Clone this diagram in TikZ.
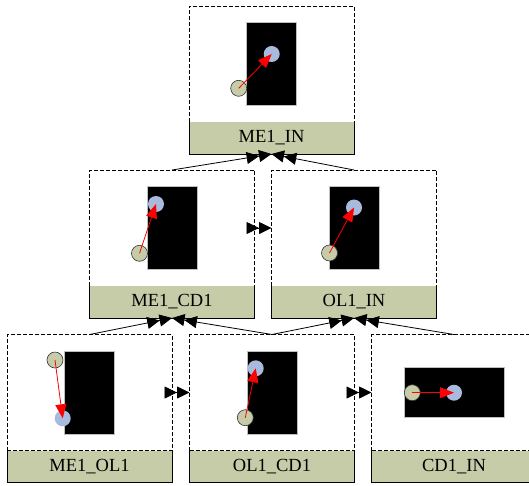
\documentclass[tikz,border=0pt]{standalone}
\usepackage{fontspec}
\setmainfont{Liberation Serif}
\usetikzlibrary{arrows.meta}
\definecolor{olivegray}{RGB}{198,204,168}
\definecolor{pinblue}{RGB}{168,187,222}

\begin{document}
\begin{tikzpicture}[x=1pt,y=-1pt,
    box_frame/.style={draw,dash pattern=on 4pt off 2pt,line width=0.9pt,minimum width=165pt,minimum height=116pt,inner sep=0pt,outer sep=0pt},
    box_bar/.style={fill=olivegray,minimum width=165pt,minimum height=32pt,inner sep=0pt,outer sep=0pt,anchor=north,font=\fontsize{18.5}{20}\selectfont},
    bar_edge/.style={line width=0.9pt},
    chip_rect/.style={fill=black,draw=black!25,line width=0.6pt,minimum width=50pt,minimum height=83pt,inner sep=0pt},
    src_pin/.style={circle,fill=olivegray,draw=black!80,line width=0.6pt,minimum size=16pt,inner sep=0pt},
    dst_pin/.style={circle,fill=pinblue,minimum size=16pt,inner sep=0pt},
    move_arrow/.style={red,line width=0.8pt,-{Triangle[length=14pt,width=11pt]}},
    link_arrow/.style={line width=0.8pt,-{Triangle[length=12.5pt,width=12pt]Triangle[length=12.5pt,width=12pt]}}]

    \useasboundingbox (0,0) rectangle (529,485);
    \clip (0,0) rectangle (529,485);

    % label bars first, the dashed frames go over their top edge
    \node[box_frame] (me1_in) at (271.5,64) {};
    \node[box_bar] (me1_in_bar) at (me1_in.south) {ME1\_IN};
    \node[box_frame] (me1_cd1) at (172,228) {};
    \node[box_bar] (me1_cd1_bar) at (me1_cd1.south) {ME1\_CD1};
    \node[box_frame] (ol1_in) at (354,228) {};
    \node[box_bar] (ol1_in_bar) at (ol1_in.south) {OL1\_IN};
    \node[box_frame] (me1_ol1) at (89.5,392.5) {};
    \node[box_bar] (me1_ol1_bar) at (me1_ol1.south) {ME1\_OL1};
    \node[box_frame] (ol1_cd1) at (272,392.5) {};
    \node[box_bar] (ol1_cd1_bar) at (ol1_cd1.south) {OL1\_CD1};
    \node[box_frame] (cd1_in) at (454,392.5) {};
    \node[box_bar] (cd1_in_bar) at (cd1_in.south) {CD1\_IN};

    \foreach \b in {me1_in_bar,me1_cd1_bar,ol1_in_bar,me1_ol1_bar,ol1_cd1_bar,cd1_in_bar}
        \draw[bar_edge] (\b.north west) |- (\b.south east) -- (\b.north east);

    % chips with the two pins
    \node[chip_rect] (c1) at (me1_in.center) {};
    \node[dst_pin] (d1) at (271.7,54) {};
    \node[src_pin] (s1) at (238.7,88.3) {};
    \draw[move_arrow] (s1.center) -- (d1.center);

    \node[chip_rect] (c2) at (me1_cd1.center) {};
    \node[dst_pin] (d2) at (156,204) {};
    \node[src_pin] (s2) at (139.5,253.3) {};
    \draw[move_arrow] (s2.center) -- (d2.center);

    \node[chip_rect] (c3) at (ol1_in.center) {};
    \node[dst_pin] (d3) at (354,207.5) {};
    \node[src_pin] (s3) at (329.5,253) {};
    \draw[move_arrow] (s3.center) -- (d3.center);

    \node[chip_rect] (c4) at (me1_ol1.center) {};
    \node[src_pin] (s4) at (55,360) {};
    \node[dst_pin] (d4) at (62.7,418.3) {};
    \draw[move_arrow] (s4.center) -- (d4.center);

    \node[chip_rect] (c5) at (ol1_cd1.center) {};
    \node[dst_pin] (d5) at (255.7,368.3) {};
    \node[src_pin] (s5) at (245.3,417.7) {};
    \draw[move_arrow] (s5.center) -- (d5.center);

    \node[chip_rect,minimum width=100pt,minimum height=50pt] (c6) at (cd1_in.center) {};
    \node[src_pin] (s6) at (412.3,392.7) {};
    \node[dst_pin] (d6) at (454,392.7) {};
    \draw[move_arrow] (s6.center) -- (d6.center);

    % links between the states
    \draw[link_arrow] (me1_cd1.north) -- (me1_in_bar.south);
    \draw[link_arrow] (ol1_in.north) -- (me1_in_bar.south);
    \draw[link_arrow] (me1_ol1.north) -- (me1_cd1_bar.south);
    \draw[link_arrow] (ol1_cd1.north) -- (me1_cd1_bar.south);
    \draw[link_arrow] (ol1_cd1.north) -- (ol1_in_bar.south);
    \draw[link_arrow] (cd1_in.north) -- (ol1_in_bar.south);
    \draw[link_arrow] (me1_cd1.east) -- (ol1_in.west);
    \draw[link_arrow] (me1_ol1.east) -- (ol1_cd1.west);
    \draw[link_arrow] (ol1_cd1.east) -- (cd1_in.west);
\end{tikzpicture}
\end{document}
